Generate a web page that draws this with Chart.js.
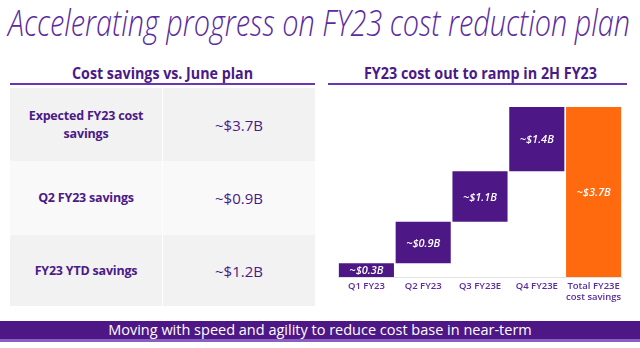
<!DOCTYPE html>
<html>
<head>
<meta charset="utf-8">
<script src="https://cdn.jsdelivr.net/npm/chart.js@4"></script>
<style>
  html, body { margin: 0; padding: 0; background: #fff; }
  body { width: 640px; height: 348px; position: relative; overflow: hidden; font-family: "Open Sans", sans-serif; }
  .fit { display: inline-block; white-space: nowrap; transform-origin: 0 0; }
  .title { position: absolute; left: 8px; top: 3px; font-size: 37px; line-height: 37px; font-weight: 300; font-style: italic; color: #5b2b9f; }
  .head { position: absolute; top: 63px; height: 20px; font-size: 16px; font-weight: 700; color: #4b1a87; border-bottom: 2px solid #6a35b0; line-height: 20px; }
  .head .fit { position: absolute; top: 0; }
  table { position: absolute; left: 10px; top: 88px; width: 305px; border-collapse: collapse; }
  td { text-align: center; color: #4b1a87; padding: 0; }
  td.name { width: 152px; font-weight: 700; font-size: 12.5px; line-height: 17.5px; letter-spacing: -0.2px; border-right: 1px solid #fff; }
  td.val { font-size: 15px; }
  tr.dark td { background: #f2f2f2; }
  tr.light td { background: #f9f9f9; }
  .banner { position: absolute; left: 0; top: 321px; width: 640px; height: 18px; background: #4e1786; border-bottom: 3px solid #8a5fc4; color: #fff; text-align: center; font-size: 14.5px; line-height: 18px; }
  #box { position: absolute; left: 328px; top: 90px; width: 300px; height: 215px; }
</style>
</head>
<body>
<div class="title"><span class="fit" data-w="622">Accelerating progress on FY23 cost reduction plan</span></div>

<div class="head" style="left:10px;width:305px;"><span class="fit" data-w="181" style="left:62px;">Cost savings vs. June plan</span></div>
<table id="savings"></table>

<div class="head" style="left:328px;width:299px;"><span class="fit" data-w="233" style="left:36px;">FY23 cost out to ramp in 2H FY23</span></div>
<div id="box"><canvas id="chart"></canvas></div>

<div class="banner">Moving with speed and agility to reduce cost base in near-term</div>

<script>
// table rows
var rowNames = ["Expected FY23 cost<br>savings", "Q2 FY23 savings", "FY23 YTD savings"];
var rowValues = ["~$3.7B", "~$0.9B", "~$1.2B"];
var rowHeights = [73, 74, 71];

// waterfall data (in $B)
var quarters = [["Q1 FY23"], ["Q2 FY23"], ["Q3 FY23E"], ["Q4 FY23E"]];
var quarterSavings = [0.3, 0.9, 1.1, 1.4];
var totalLabel = ["Total FY23E", "cost savings"];
var totalSavings = 3.7;

var purple = "#4e1786";
var orange = "#ff6a0e";

// squeeze headings to their slot widths
document.querySelectorAll(".fit").forEach(function(el) {
  var w = parseFloat(el.getAttribute("data-w"));
  el.style.transform = "scaleX(" + (w / el.getBoundingClientRect().width) + ")";
});

var tbl = document.getElementById("savings");
rowNames.forEach(function(name, i) {
  var tr = document.createElement("tr");
  tr.className = i % 2 == 0 ? "dark" : "light";
  tr.style.height = rowHeights[i] + "px";
  tr.innerHTML = '<td class="name">' + name + '</td><td class="val">' + rowValues[i] + '</td>';
  tbl.appendChild(tr);
});

// floating bars: each quarter starts where the previous one ended
var labels = quarters.concat([totalLabel]);
var ranges = [];
var running = 0;
quarterSavings.forEach(function(v) {
  ranges.push([running, +(running + v).toFixed(1)]);
  running += v;
});
ranges.push([0, totalSavings]);
var amounts = quarterSavings.concat([totalSavings]);
var colors = quarterSavings.map(function() { return purple; }).concat([orange]);

var barLabels = {
  id: "barLabels",
  afterDatasetsDraw: function(chart) {
    var ctx = chart.ctx;
    ctx.save();
    ctx.fillStyle = "#fff";
    ctx.font = "italic 600 11px 'Open Sans'";
    ctx.textAlign = "center";
    ctx.textBaseline = "middle";
    chart.getDatasetMeta(0).data.forEach(function(bar, i) {
      ctx.fillText("~$" + amounts[i].toFixed(1) + "B", bar.x, (bar.y + bar.base) / 2 + 1);
    });
    ctx.restore();
  }
};

new Chart(document.getElementById("chart"), {
  type: "bar",
  data: {
    labels: labels,
    datasets: [{
      data: ranges,
      backgroundColor: colors,
      barPercentage: 0.97,
      categoryPercentage: 1.0,
    }],
  },
  options: {
    responsive: true,
    maintainAspectRatio: false,
    animation: false,
    layout: { padding: { left: 10, right: 6, top: 17, bottom: 0 } },
    plugins: { legend: { display: false }, tooltip: { enabled: false } },
    scales: {
      x: {
        grid: { display: false, drawTicks: false },
        border: { display: true, color: "#e2e2e2" },
        ticks: { color: "#5b2b9f", font: { family: "'Open Sans'", size: 9.5, weight: 600, lineHeight: 1.12 }, padding: 4, maxRotation: 0, autoSkip: false },
        afterFit: function(scale) { scale.height = 28; },
      },
      y: {
        display: false,
        min: 0,
        max: totalSavings,
      },
    },
  },
  plugins: [barLabels],
});
</script>
</body>
</html>
